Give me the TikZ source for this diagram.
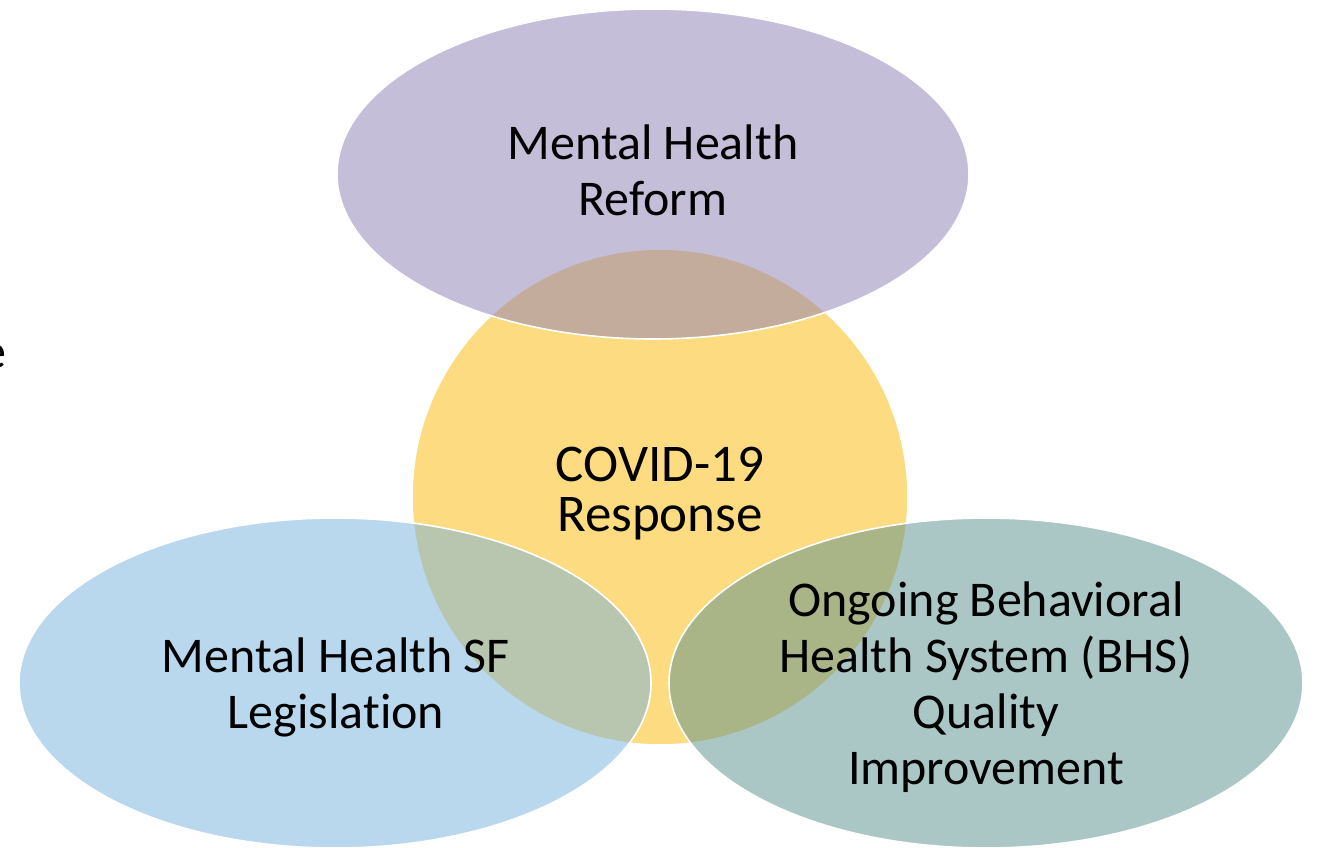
\documentclass[tikz,border=0pt]{standalone}
\usepackage{fontspec}
\setmainfont[Ligatures=NoCommon]{Carlito}
\begin{document}
\begin{tikzpicture}[x=1pt,y=-1pt,
  blob/.style={draw=white, line width=1.6pt, fill opacity=0.5},
  lbl/.style={align=center, inner sep=0pt, text=black, font=\fontsize{50}{56}\selectfont}]
\definecolor{cyel}{RGB}{253,185,5}
\definecolor{cpur}{RGB}{139,127,181}
\definecolor{cblu}{RGB}{117,179,223}
\definecolor{cgrn}{RGB}{87,145,141}
\useasboundingbox (0,0) rectangle (1317,847);
\clip (0,0) rectangle (1317,847);
\fill[white] (0,0) rectangle (1317,847);
% shapes
\path[blob, fill=cyel] (660,497) circle[radius=248];
\path[blob, fill=cpur] (653,174) ellipse[x radius=316, y radius=165];
\path[blob, fill=cblu] (335,683) ellipse[x radius=316, y radius=165];
\path[blob, fill=cgrn] (986,683) ellipse[x radius=317, y radius=165];
% labels
\node[lbl] (reform) at (653,170) {Mental Health\\Reform};
\node[lbl, font=\fontsize{53}{50}\selectfont] (covid) at (660,494) {COVID-19\\Response};
\node[lbl] (sflaw) at (336,687) {Mental Health SF\\Legislation};
\node[lbl] (bhs) at (986,687) {Ongoing Behavioral\\Health System (BHS)\\Quality\\Improvement};
\node[lbl, anchor=base east] (frag) at (7,368) {e};
\end{tikzpicture}
\end{document}
